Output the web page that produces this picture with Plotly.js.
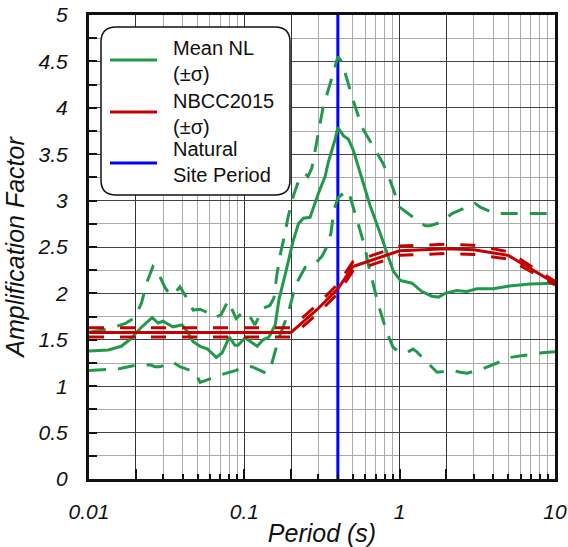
<!DOCTYPE html>
<html>
<head>
<meta charset="utf-8">
<script src="https://cdn.plot.ly/plotly-3.0.1.min.js"></script>
<style>html,body{margin:0;padding:0;background:#fff;}#chart{width:568px;height:547px;}</style>
</head>
<body>
<div id="chart"></div>
<script>
// ---------- data ----------
const nlPeriod = [0.01,0.0133,0.0161,0.0186,0.0216,0.0255,0.0278,0.0299,0.0347,0.0397,0.0428,0.0468,0.052,0.058,0.066,0.072,0.080,0.087,0.091,0.101,0.110,0.121,0.132,0.144,0.158,0.167,0.188,0.205,0.223,0.240,0.265,0.278,0.300,0.331,0.348,0.384,0.400,0.434,0.468,0.504,0.542,0.598,0.644,0.748,0.846,0.91,1.01,1.20,1.39,1.61,1.78,1.96,2.33,2.71,3.14,4.0,5.1,6.9,10];
const nlMean   = [1.38,1.39,1.43,1.51,1.63,1.74,1.68,1.70,1.64,1.66,1.59,1.48,1.43,1.40,1.31,1.36,1.53,1.44,1.44,1.52,1.48,1.43,1.50,1.53,1.66,1.93,2.28,2.55,2.75,2.81,2.82,2.92,3.08,3.26,3.42,3.66,3.79,3.70,3.66,3.54,3.36,3.11,2.95,2.65,2.39,2.24,2.14,2.11,2.02,1.97,1.96,2.00,2.03,2.02,2.05,2.05,2.08,2.10,2.11];

const nlUpPeriod = [0.01,0.0137,0.0173,0.0198,0.0218,0.0236,0.0258,0.0274,0.0307,0.0333,0.0363,0.0385,0.0434,0.0468,0.0519,0.0584,0.0648,0.0708,0.0785,0.0885,0.0982,0.107,0.117,0.132,0.146,0.155,0.162,0.172,0.183,0.191,0.206,0.222,0.246,0.257,0.272,0.294,0.321,0.367,0.400,0.426,0.493,0.572,0.664,0.782,0.867,1.00,1.29,1.46,1.57,1.87,2.17,2.84,3.06,3.30,4.11,10];
const nlUpper    = [1.58,1.62,1.68,1.74,1.90,2.12,2.29,2.25,2.07,1.98,2.02,2.07,1.93,1.82,1.83,1.79,1.74,1.77,1.92,1.73,1.80,1.77,1.66,1.84,1.87,1.95,2.20,2.45,2.65,2.82,3.04,3.20,3.29,3.26,3.35,3.65,4.00,4.33,4.55,4.49,4.12,3.79,3.60,3.40,3.22,2.93,2.79,2.73,2.73,2.77,2.86,2.95,2.97,2.93,2.86,2.86];

const nlLoPeriod = [0.01,0.0118,0.0159,0.0192,0.0247,0.0266,0.0286,0.0347,0.0385,0.0482,0.0519,0.0601,0.0698,0.0885,0.0982,0.112,0.126,0.138,0.146,0.158,0.167,0.191,0.215,0.246,0.285,0.316,0.340,0.361,0.378,0.400,0.458,0.480,0.517,0.556,0.598,0.626,0.664,0.726,0.782,0.842,0.907,1.00,1.13,1.22,1.29,1.52,1.74,2.21,2.45,2.72,3.44,4.24,5.14,6.24,8.26,10];
const nlLower    = [1.17,1.18,1.19,1.22,1.23,1.21,1.21,1.26,1.21,1.15,1.04,1.08,1.12,1.17,1.21,1.21,1.17,1.14,1.17,1.37,1.52,1.78,2.10,2.28,2.32,2.40,2.50,2.65,2.90,3.03,3.11,3.04,2.86,2.68,2.50,2.32,2.15,1.89,1.71,1.55,1.42,1.36,1.37,1.40,1.37,1.25,1.15,1.17,1.15,1.14,1.19,1.25,1.31,1.33,1.36,1.37];

const nbccPeriod = [0.01,0.2,0.3,0.4,0.5,1,2,3,5,10];
const nbccMean   = [1.58,1.58,1.84,2.05,2.29,2.46,2.48,2.47,2.41,2.11];
const nbccUpper  = [1.63,1.63,1.89,2.10,2.34,2.51,2.53,2.52,2.45,2.13];
const nbccLower  = [1.53,1.53,1.79,2.00,2.24,2.41,2.43,2.42,2.37,2.09];

const sitePeriod = [0.4, 0.4];
const siteAF     = [0, 5];

const xMajorTicks = [0.01,0.02,0.1,0.2,1,2,10];
const xMajorText  = ['0.01','','0.1','','1','','10'];
const xMinorTicks = [0.03,0.04,0.05,0.06,0.07,0.08,0.09,0.3,0.4,0.5,0.6,0.7,0.8,0.9,3,4,5,6,7,8,9];

const legendLabels = ['Mean NL<br>(±σ)', 'NBCC2015<br>(±σ)', 'Natural<br>Site Period'];

// ---------- styling ----------
const GREEN = '#22994a', RED = '#c40000', BLUE = '#0000ff';
const FONT = 'Liberation Sans, Arial, sans-serif';

const traces = [
  {x: sitePeriod, y: siteAF, mode:'lines', line:{color:BLUE, width:3}, hoverinfo:'skip'},
  {x: nlUpPeriod, y: nlUpper, mode:'lines', line:{color:GREEN, width:3, dash:'17px,12px'}},
  {x: nlLoPeriod, y: nlLower, mode:'lines', line:{color:GREEN, width:3, dash:'17px,12px'}},
  {x: nlPeriod, y: nlMean, mode:'lines', line:{color:GREEN, width:3}},
  {x: nbccPeriod, y: nbccUpper, mode:'lines', line:{color:RED, width:3, dash:'15px,16px'}},
  {x: nbccPeriod, y: nbccLower, mode:'lines', line:{color:RED, width:3, dash:'15px,16px'}},
  {x: nbccPeriod, y: nbccMean, mode:'lines', line:{color:RED, width:3}}
];

// plot-area pixel helpers for legend placement
const L = 89, R = 555, T = 15, B = 479;
const px = v => (v - L) / (R - L);
const py = v => (B - v) / (B - T);

const x0 = px(101), x1 = px(290), y0 = py(195), y1 = py(27);
const rx = 15 / (R - L), ry = 15 / (B - T);
const boxPath = `M${x0+rx},${y1} L${x1-rx},${y1} Q${x1},${y1} ${x1},${y1-ry} L${x1},${y0+ry} Q${x1},${y0} ${x1-rx},${y0} L${x0+rx},${y0} Q${x0},${y0} ${x0},${y0+ry} L${x0},${y1-ry} Q${x0},${y1} ${x0+rx},${y1} Z`;

const legColors = [GREEN, RED, BLUE];
const legLineY = [60, 112, 163];
const legTextY = [61, 114, 162];

const shapes = [{type:'path', xref:'paper', yref:'paper', path: boxPath, fillcolor:'#fff', line:{color:'#111', width:1.5}, layer:'above'}];
legColors.forEach((c, i) => shapes.push({type:'line', xref:'paper', yref:'paper', x0:px(110), x1:px(157), y0:py(legLineY[i]), y1:py(legLineY[i]), line:{color:c, width:3}, layer:'above'}));

const annotations = legendLabels.map((t, i) => ({
  xref:'paper', yref:'paper', x:px(171), y:py(legTextY[i]), xanchor:'left', yanchor:'middle', align:'left',
  text:t, showarrow:false, font:{family:FONT, size:20, color:'#111'}
}));

const layout = {
  width:568, height:547,
  margin:{l:L, r:568-R, t:T, b:547-B},
  paper_bgcolor:'#fff', plot_bgcolor:'#fff',
  showlegend:false,
  font:{family:FONT, color:'#111'},
  xaxis:{
    type:'log', range:[-2, 1],
    tickvals:xMajorTicks, ticktext:xMajorText,
    ticks:'inside', ticklen:10, tickwidth:2, tickcolor:'#111',
    showgrid:true, gridcolor:'#333', gridwidth:1,
    minor:{tickvals:xMinorTicks, ticks:'inside', ticklen:5, tickwidth:2, tickcolor:'#111', showgrid:true, gridcolor:'#aaa', gridwidth:1},
    showline:true, linecolor:'#111', linewidth:3, mirror:true,
    tickfont:{family:FONT, size:21, style:'italic', color:'#111'},
    ticklabelstandoff:12,
    zeroline:false,
    title:{text:'Period (s)', font:{family:FONT, size:25, style:'italic', color:'#111'}, standoff:4}
  },
  yaxis:{
    range:[0, 5], dtick:0.5, tick0:0,
    ticks:'inside', ticklen:8, tickwidth:2, tickcolor:'#111',
    showgrid:true, gridcolor:'#444', gridwidth:1,
    minor:{dtick:0.25, ticks:'inside', ticklen:8, tickwidth:2, tickcolor:'#111', showgrid:true, gridcolor:'#aaa', gridwidth:1},
    showline:true, linecolor:'#111', linewidth:3, mirror:true,
    tickfont:{family:FONT, size:21, style:'italic', color:'#111'},
    ticklabelstandoff:14,
    zeroline:false,
    title:{text:'Amplification Factor', font:{family:FONT, size:25, style:'italic', color:'#111'}, standoff:6}
  },
  shapes:shapes,
  annotations:annotations
};

Plotly.newPlot('chart', traces, layout, {displayModeBar:false, staticPlot:true});
</script>
</body>
</html>
